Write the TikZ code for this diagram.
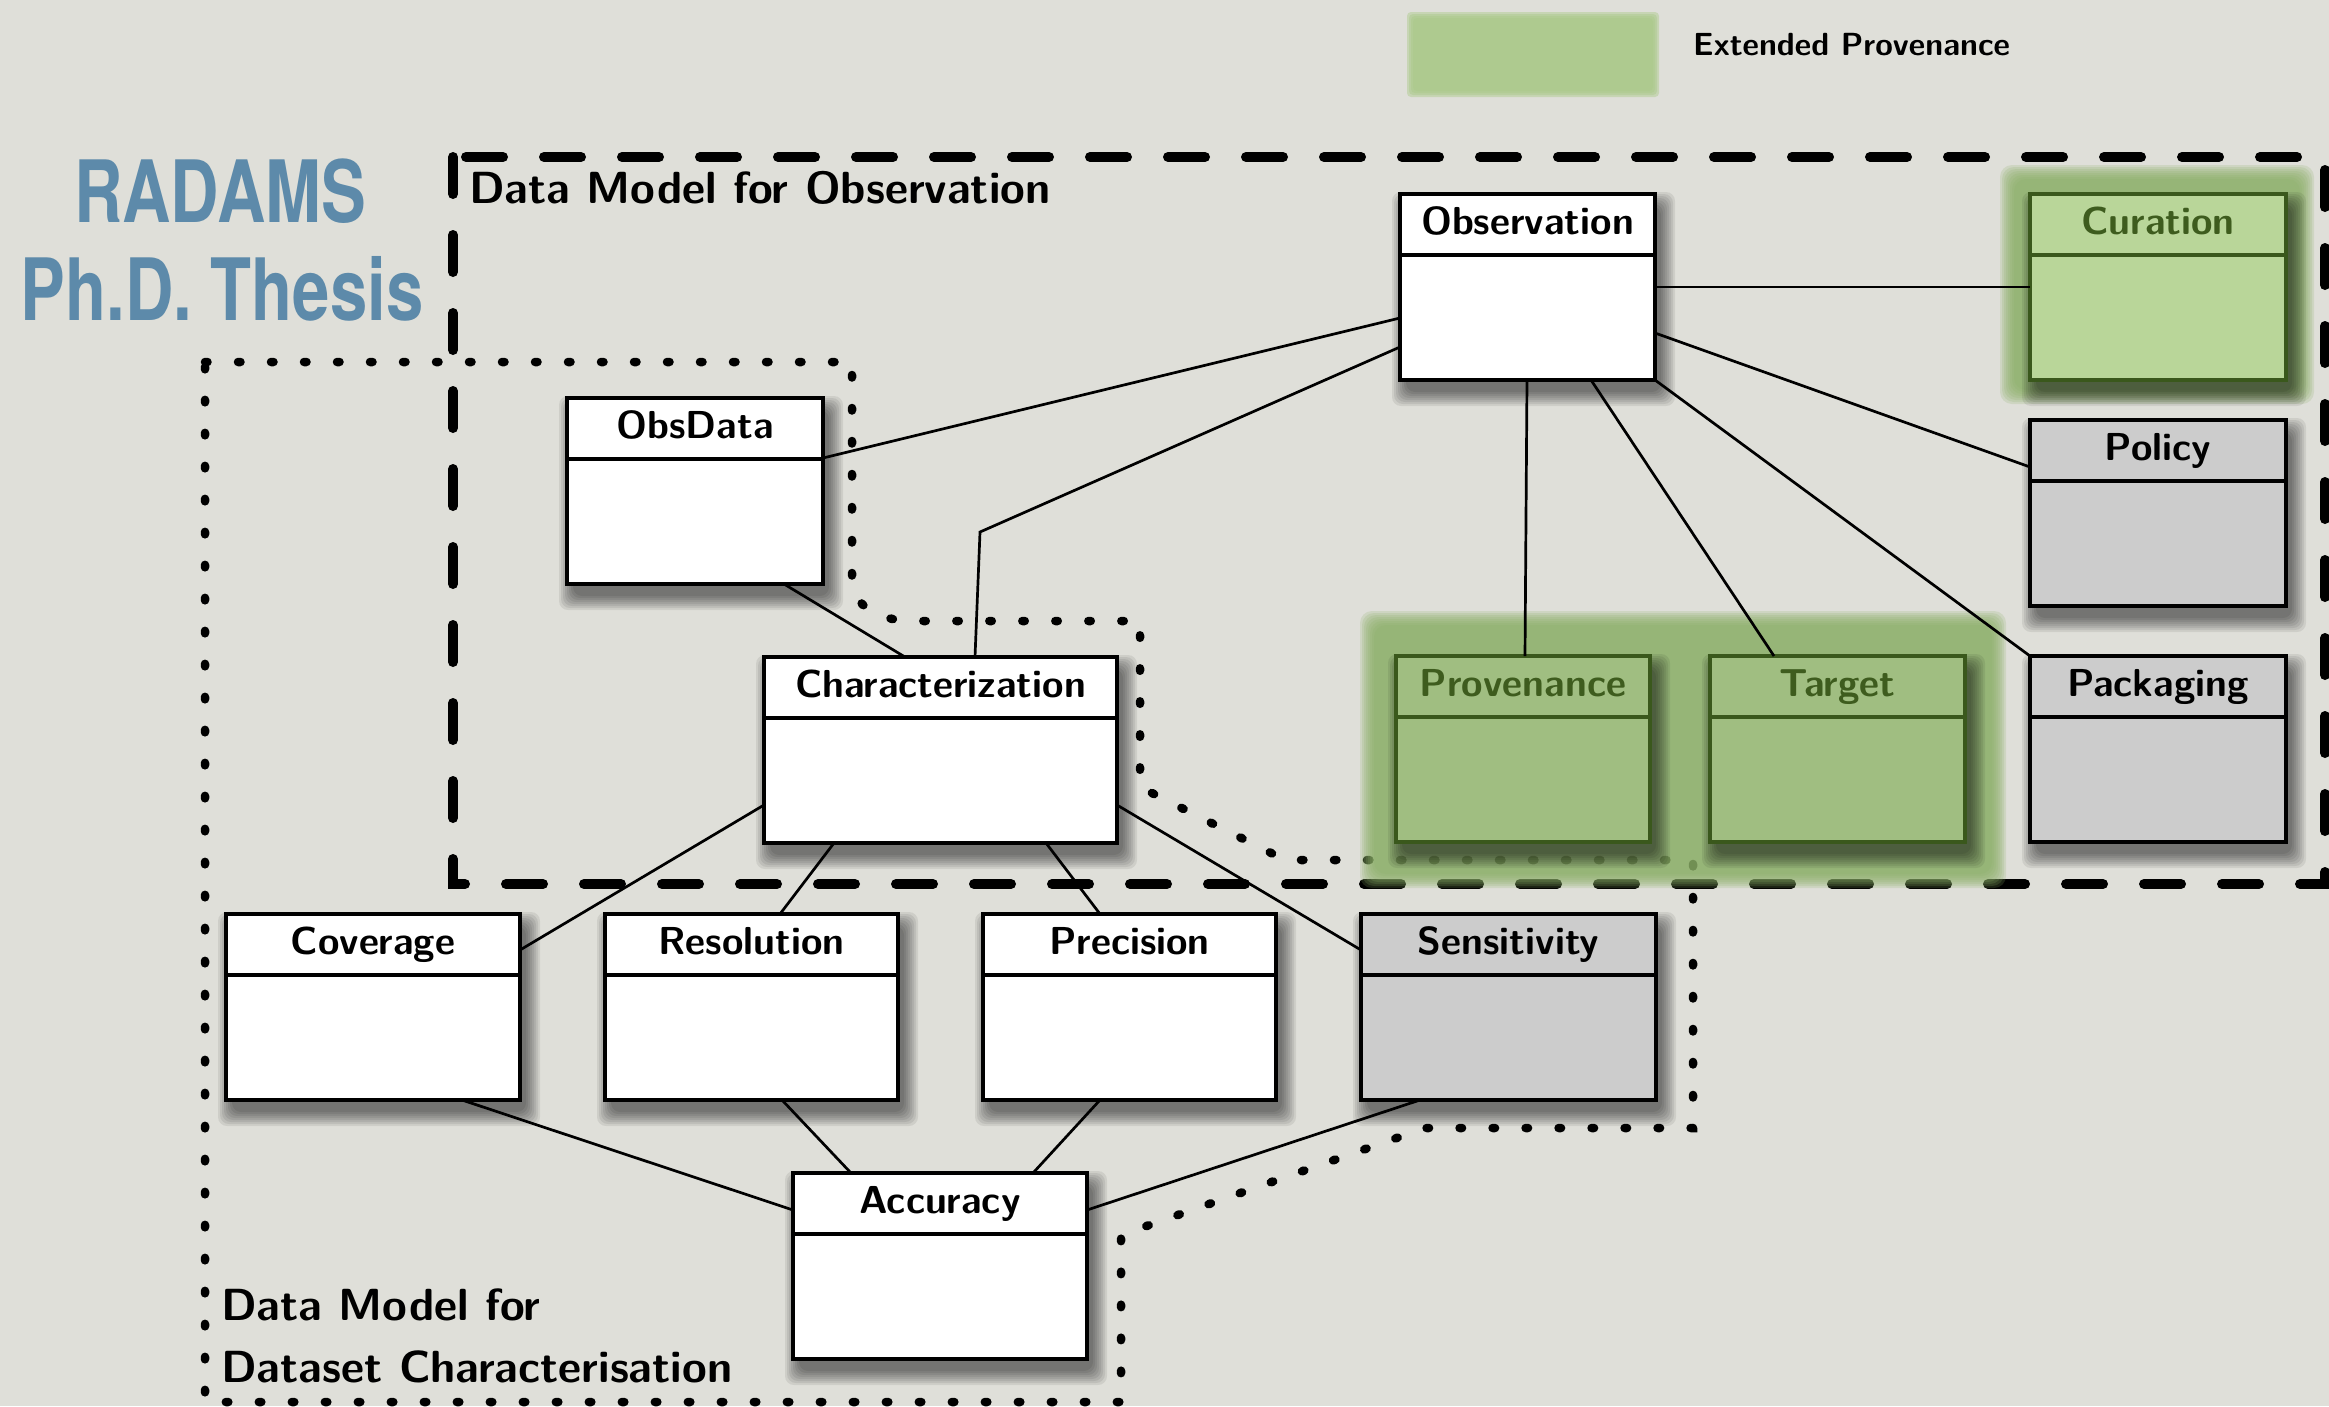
\documentclass[tikz,border=0pt]{standalone}
\usepackage{fontspec}
\setsansfont{Latin Modern Sans}
\newfontfamily\radfont{TeX Gyre Heros}
\usepackage{graphicx}
\usetikzlibrary{calc}
\definecolor{bg}{RGB}{223,223,217}
\definecolor{radblue}{RGB}{93,138,170}
\definecolor{legendgreen}{RGB}{170,201,137}
\definecolor{glowgreen}{RGB}{138,174,102}
\definecolor{curfill}{RGB}{185,214,153}
\definecolor{provfill}{RGB}{160,190,129}
\definecolor{gborder}{RGB}{58,88,28}
\definecolor{gtext}{RGB}{62,92,30}
\definecolor{grayfill}{RGB}{204,204,204}
\tikzset{
  cls/.style={rectangle,line width=3.5pt,inner sep=0pt,outer sep=0pt},
  white box/.style={draw=black,fill=white},
  white line/.style={draw=black,line width=3.5pt},
  white title/.style={text=black,font=\sffamily\bfseries\fontsize{39}{39}\selectfont,inner sep=0pt},
  gray box/.style={draw=black,fill=grayfill},
  gray line/.style={draw=black,line width=3.5pt},
  gray title/.style={text=black,font=\sffamily\bfseries\fontsize{39}{39}\selectfont,inner sep=0pt},
  cur box/.style={draw=gborder,fill=curfill},
  cur line/.style={draw=gborder,line width=3.5pt},
  cur title/.style={text=gtext,font=\sffamily\bfseries\fontsize{39}{39}\selectfont,inner sep=0pt},
  prov box/.style={draw=gborder,fill=provfill},
  prov line/.style={draw=gborder,line width=3.5pt},
  prov title/.style={text=gtext,font=\sffamily\bfseries\fontsize{39}{39}\selectfont,inner sep=0pt},
  conn/.style={draw=black,line width=2.7pt},
  dashline/.style={draw=black,line width=10pt,line cap=round,dash pattern=on 37pt off 41pt},
  dotline/.style={draw=black,line width=8.5pt,line cap=round,dash pattern=on 2.5pt off 30.5pt},
  lbl/.style={text=black,font=\sffamily\bfseries\fontsize{45}{45}\selectfont,inner sep=0pt},
  radams/.style={text=radblue,font=\radfont\bfseries\fontsize{86}{86}\selectfont,inner sep=0pt},
}
\newcommand{\umlclass}[6]{%
  \foreach \e in {0,2,...,14}{%
    \fill[black,fill opacity=0.075,rounded corners=9pt] (#2+6-\e,#3+12-\e) rectangle (#2+#4+6+\e,#3+198+\e);
  }
  \node[cls,#5 box,minimum width=#4pt,minimum height=186pt,anchor=north west] (#1) at (#2,#3) {};
  \draw[#5 line] ([yshift=-61pt]#1.north west) -- ([yshift=-61pt]#1.north east);
  \node[#5 title,anchor=base] (#1-t) at ([yshift=-40pt]#1.north) {#6};
}
\newcommand{\glowrect}[5]{%
  \foreach \e in {0,2,...,14}{%
    \fill[#5,fill opacity=0.2,rounded corners=12pt] (#1+\e,#2+\e) rectangle (#3-\e,#4-\e);
  }
}
\begin{document}
\begin{tikzpicture}[x=1pt,y=-1pt]
\path[use as bounding box,fill=bg] (0,0) rectangle (2329,1406);

% legend
\foreach \e in {0,2,4,6}{%
  \fill[legendgreen,fill opacity=0.45,rounded corners=4pt] (1407+\e,12+\e) rectangle (1659-\e,97-\e);
}
\node[anchor=base west,text=black,font=\sffamily\bfseries\fontsize{32}{32}\selectfont,inner sep=0pt] (legtxt) at (1693,55) {Extended Provenance};

% title
\node[radams,anchor=base] (rad1) at (220,222) {\scalebox{0.78}[1]{RADAMS}};
\node[radams,anchor=base] (rad2) at (222,320) {\scalebox{0.78}[1]{Ph.D. Thesis}};

% group frames
\draw[dashline] (453,157) rectangle (2325,884);
\draw[dotline] (205,362) -- (852,362) -- (852,580) .. controls (852,606) and (880,621) .. (912,621) -- (1140,621) -- (1140,787) -- (1285,860) -- (1693,860) -- (1693,1128) -- (1425,1128) -- (1121,1235) -- (1121,1402) -- (205,1402) -- cycle;

% green highlights
\glowrect{2000}{165}{2314}{404}{glowgreen}
\glowrect{1360}{611}{2006}{888}{glowgreen}

% classes
\umlclass{obs}{1400}{194}{255}{white}{Observation}
\umlclass{cur}{2030}{194}{256}{cur}{Curation}
\umlclass{pol}{2030}{420}{256}{gray}{Policy}
\umlclass{pack}{2030}{656}{256}{gray}{Packaging}
\umlclass{prov}{1396}{656}{254}{prov}{Provenance}
\umlclass{tgt}{1710}{656}{255}{prov}{Target}
\umlclass{od}{567}{398}{256}{white}{ObsData}
\umlclass{char}{764}{657}{353}{white}{Characterization}
\umlclass{cov}{226}{914}{294}{white}{Coverage}
\umlclass{res}{605}{914}{293}{white}{Resolution}
\umlclass{prec}{983}{914}{293}{white}{Precision}
\umlclass{sens}{1361}{914}{295}{gray}{Sensitivity}
\umlclass{acc}{793}{1173}{294}{white}{Accuracy}

% connectors
\coordinate (bend) at (980,532);
\draw[conn] ([yshift=-93pt]obs.north east) -- ([yshift=-93pt]cur.north west);
\draw[conn] ([yshift=-124pt]obs.north west) -- ([yshift=-60pt]od.north east);
\draw[conn] ([yshift=-153pt]obs.north west) -- (bend) -- ([xshift=211pt]char.north west);
\draw[conn] ([yshift=-139pt]obs.north east) -- ([yshift=-47pt]pol.north west);
\draw[conn] ([xshift=127pt]obs.south west) -- ([xshift=129pt]prov.north west);
\draw[conn] ([xshift=191pt]obs.south west) -- ([xshift=64pt]tgt.north west);
\draw[conn] (obs.south east) -- (pack.north west);
\draw[conn] ([xshift=217pt]od.south west) -- ([xshift=141pt]char.north west);
\draw[conn] ([yshift=-148pt]char.north west) -- ([yshift=-36pt]cov.north east);
\draw[conn] ([xshift=70pt]char.south west) -- ([xshift=175pt]res.north west);
\draw[conn] ([xshift=282pt]char.south west) -- ([xshift=117pt]prec.north west);
\draw[conn] ([yshift=-148pt]char.north east) -- ([yshift=-36pt]sens.north west);
\draw[conn] ([xshift=236pt]cov.south west) -- ([yshift=-37pt]acc.north west);
\draw[conn] ([xshift=177pt]res.south west) -- ([xshift=58pt]acc.north west);
\draw[conn] ([xshift=117pt]prec.south west) -- ([xshift=240pt]acc.north west);
\draw[conn] ([xshift=59pt]sens.south west) -- ([yshift=-37pt]acc.north east);

% frame labels
\node[lbl,anchor=base west] (obslbl) at (469,203) {Data Model for Observation};
\node[lbl,anchor=base west] (dslbl1) at (221,1320) {Data Model for};
\node[lbl,anchor=base west] (dslbl2) at (221,1382) {Dataset Characterisation};
\end{tikzpicture}
\end{document}
